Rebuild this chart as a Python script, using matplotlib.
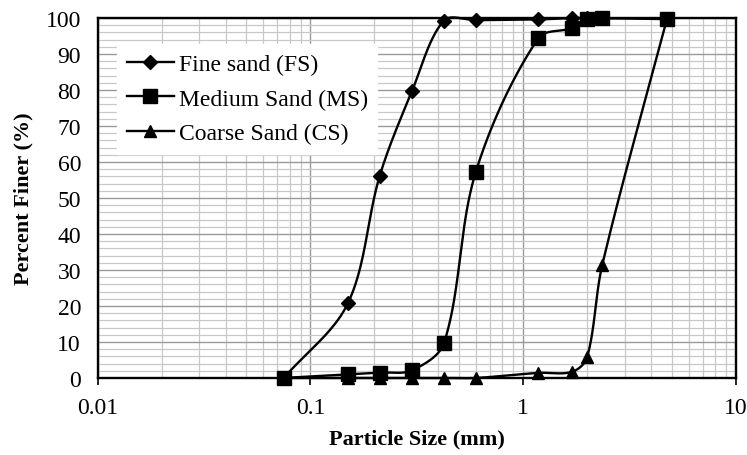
import matplotlib
matplotlib.use('Agg')
import matplotlib.pyplot as plt
import matplotlib.ticker as mticker
import numpy as np

plt.rcParams['font.family'] = ['Liberation Serif', 'DejaVu Serif']

## sieve data (percent finer)
sieve_fs = [0.075, 0.15, 0.212, 0.3, 0.425, 0.6, 1.18, 1.7, 2.0, 2.36]
finer_fs = [0.0, 20.7, 56.2, 79.6, 99.3, 99.4, 99.6, 100.0, 100.0, 100.0]

sieve_ms = [0.075, 0.15, 0.212, 0.3, 0.425, 0.6, 1.18, 1.7, 2.0, 2.36, 4.75]
finer_ms = [0.0, 1.0, 1.5, 2.1, 9.7, 57.3, 94.4, 97.2, 99.7, 99.9, 99.7]

sieve_cs = [0.075, 0.15, 0.212, 0.3, 0.425, 0.6, 1.18, 1.7, 2.0, 2.36, 4.75]
finer_cs = [0.0, 0.0, 0.0, 0.0, 0.0, 0.0, 1.4, 1.7, 5.7, 31.5, 99.7]

labels = ['Fine sand (FS)', 'Medium Sand (MS)', 'Coarse Sand (CS)']
markers = ['D', 's', '^']
msizes = [7, 9.5, 8.5]


def smooth_curve(xs, ys, n=40):
    ## bezier smoothing in (log x, y) space scaled roughly like the page,
    ## tangents weighted by chord length so short segments do not overshoot
    u = np.log10(np.array(xs, dtype=float)) * 213.0
    v = np.array(ys, dtype=float) * 3.6
    pts = np.column_stack([u, v])
    pts = np.vstack([pts[0], pts, pts[-1]])
    out = []
    for i in range(1, len(pts) - 2):
        p0, p1, p2, p3 = pts[i - 1], pts[i], pts[i + 1], pts[i + 2]
        d01 = np.linalg.norm(p1 - p0)
        d12 = np.linalg.norm(p2 - p1)
        d23 = np.linalg.norm(p3 - p2)
        w1 = d12 / (d01 + d12) if d01 + d12 > 0 else 0.5
        w2 = d12 / (d12 + d23) if d12 + d23 > 0 else 0.5
        c1 = p1 + (p2 - p0) * w1 / 3.0
        c2 = p2 - (p3 - p1) * w2 / 3.0
        t = np.linspace(0, 1, n)[:, None]
        b = (1 - t) ** 3 * p1 + 3 * (1 - t) ** 2 * t * c1 + 3 * (1 - t) * t ** 2 * c2 + t ** 3 * p2
        out.append(b)
    out = np.vstack(out)
    return 10 ** (out[:, 0] / 213.0), out[:, 1] / 3.6


fig = plt.figure(figsize=(7.47, 4.56), dpi=100)
ax = fig.add_axes([0.1308, 0.169, 0.8541, 0.7893])

ax.set_xscale('log')
ax.set_xlim(0.01, 10)
ax.set_ylim(0, 100)

## grid
ax.xaxis.set_minor_locator(mticker.LogLocator(base=10, subs=np.arange(2, 10)))
ax.xaxis.set_minor_formatter(mticker.NullFormatter())
ax.yaxis.set_major_locator(mticker.MultipleLocator(10))
ax.yaxis.set_minor_locator(mticker.MultipleLocator(2))
ax.grid(True, which='major', color='#999999', linewidth=1.0)
ax.grid(True, which='minor', color='#c8c8c8', linewidth=0.9)
ax.set_axisbelow(True)

all_x = [sieve_fs, sieve_ms, sieve_cs]
all_y = [finer_fs, finer_ms, finer_cs]
for xs, ys, lab, mk, ms in zip(all_x, all_y, labels, markers, msizes):
    sx, sy = smooth_curve(xs, ys)
    ax.plot(sx, sy, color='black', linewidth=1.7, clip_on=False, zorder=3)
    ax.plot(xs, ys, linestyle='none', marker=mk, markersize=ms, color='black', clip_on=False, zorder=4)
    ax.plot([], [], color='black', linewidth=1.7, marker=mk, markersize=ms, label=lab)

for sp in ax.spines.values():
    sp.set_color('black')
    sp.set_linewidth(1.7)

ax.xaxis.set_major_formatter(mticker.FuncFormatter(lambda v, p: '%g' % v))
ax.tick_params(axis='x', which='major', length=5, width=1.2, labelsize=17, pad=9)
ax.tick_params(axis='x', which='minor', length=0)
ax.tick_params(axis='y', which='both', length=0, labelsize=17, pad=12)

ax.set_xlabel('Particle Size (mm)', fontsize=16, fontweight='bold', labelpad=7)
ax.set_ylabel('Percent Finer (%)', fontsize=16, fontweight='bold', labelpad=9)

leg = ax.legend(loc='upper left', bbox_to_anchor=(0.012, 0.96), fontsize=17, frameon=True,
                fancybox=False, framealpha=1, edgecolor='white', handlelength=2.0,
                handletextpad=0.2, labelspacing=0.55, borderpad=0.4)

plt.savefig('out.png', dpi=100)
